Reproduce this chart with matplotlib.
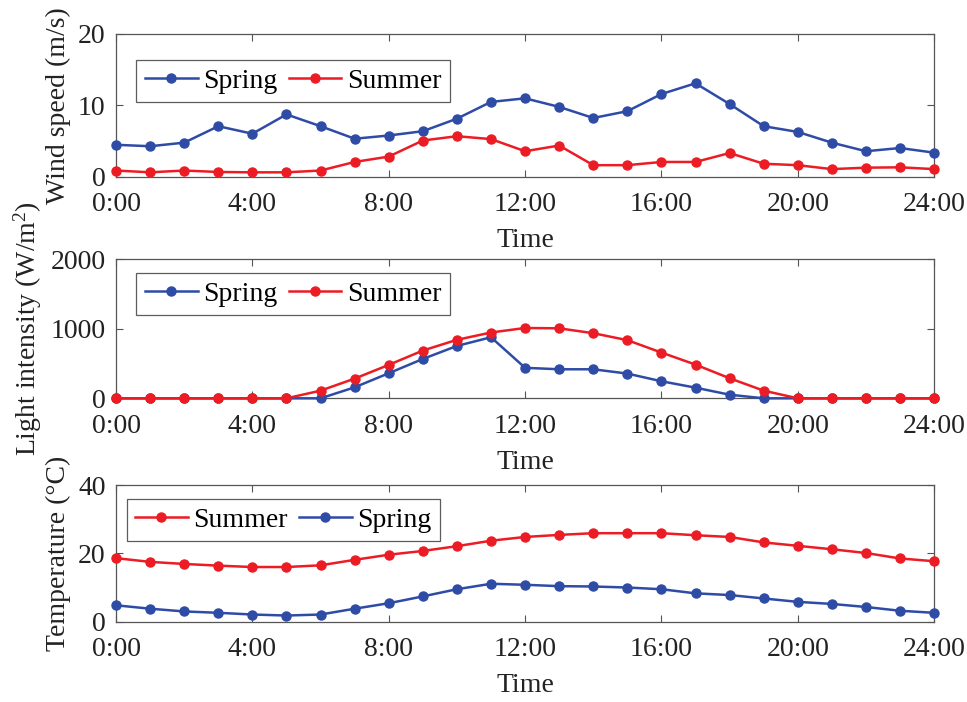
import matplotlib
matplotlib.use("Agg")
import matplotlib.pyplot as plt

plt.rcParams['font.family'] = ['Liberation Serif', 'DejaVu Serif']
plt.rcParams['mathtext.fontset'] = 'custom'
plt.rcParams['mathtext.rm'] = 'Liberation Serif'
plt.rcParams['mathtext.it'] = 'Liberation Serif:italic'

hours = list(range(25))
tick_hours = [0, 4, 8, 12, 16, 20, 24]
tick_labels = ["0:00", "4:00", "8:00", "12:00", "16:00", "20:00", "24:00"]

wind_spring = [4.5, 4.3, 4.8, 7.1, 6.05, 8.75, 7.1, 5.35, 5.8, 6.4, 8.15, 10.5, 11.0,
               9.8, 8.25, 9.2, 11.6, 13.1, 10.2, 7.1, 6.3, 4.8, 3.6, 4.05, 3.4]
wind_summer = [0.9, 0.65, 0.9, 0.7, 0.65, 0.65, 0.9, 2.1, 2.85, 5.1, 5.7, 5.3, 3.6,
               4.4, 1.65, 1.65, 2.1, 2.1, 3.35, 1.85, 1.65, 1.1, 1.3, 1.35, 1.1]

light_spring = [0, 0, 0, 0, 0, 0, 0, 158, 360, 565, 752, 877, 438,
                417, 417, 355, 245, 153, 52, 0, 0, 0, 0, 0, 0]
light_summer = [0, 0, 0, 0, 0, 0, 110, 283, 480, 686, 840, 945, 1010,
                1005, 935, 835, 657, 484, 288, 110, 0, 0, 0, 0, 0]

temp_summer = [18.6, 17.5, 16.9, 16.4, 16.0, 16.0, 16.5, 18.1, 19.6, 20.7, 22.1, 23.7, 24.8,
               25.4, 25.9, 25.9, 25.9, 25.3, 24.8, 23.2, 22.2, 21.2, 20.1, 18.5, 17.7]
temp_spring = [4.8, 3.8, 3.0, 2.6, 2.1, 1.8, 2.1, 3.8, 5.4, 7.4, 9.5, 11.1, 10.8,
               10.4, 10.3, 10.0, 9.5, 8.3, 7.8, 6.8, 5.8, 5.2, 4.3, 3.2, 2.6]

BLUE = '#2E4BA6'
RED = '#EC1C24'
AXC = '#555555'
TXT = '#222222'
FS = 20

fig = plt.figure(figsize=(9.67, 7.02), dpi=100)

positions = [
    [0.120, 0.7479, 0.846, 0.2037],
    [0.120, 0.4326, 0.846, 0.1984],
    [0.120, 0.1144, 0.846, 0.1947],
]

panels = [
    dict(series=[("Spring", wind_spring, BLUE), ("Summer", wind_summer, RED)],
         ylim=(0, 20), yticks=[0, 10, 20], ylabel="Wind speed (m/s)",
         anchor=(0.025, 0.818)),
    dict(series=[("Spring", light_spring, BLUE), ("Summer", light_summer, RED)],
         ylim=(0, 2000), yticks=[0, 1000, 2000], ylabel="Light intensity (W/m$^2$)",
         anchor=(0.025, 0.899)),
    dict(series=[("Summer", temp_summer, RED), ("Spring", temp_spring, BLUE)],
         ylim=(0, 40), yticks=[0, 20, 40], ylabel="Temperature (\u00b0C)",
         anchor=(0.013, 0.898)),
]

for pos, p in zip(positions, panels):
    ax = fig.add_axes(pos)
    for name, vals, col in p["series"]:
        ax.plot(hours, vals, '-o', color=col, lw=1.8, ms=6.5, label=name, clip_on=False, zorder=3)
    ax.set_xlim(0, 24)
    ax.set_ylim(*p["ylim"])
    ax.set_xticks(tick_hours)
    ax.set_xticklabels(tick_labels)
    ax.set_yticks(p["yticks"])
    ax.tick_params(direction='in', top=True, right=True, labelsize=FS, length=5,
                   width=0.8, color=AXC, labelcolor=TXT)
    ax.tick_params(axis='x', pad=11)
    ax.tick_params(axis='y', pad=7.5)
    for s in ax.spines.values():
        s.set_color(AXC)
        s.set_linewidth(0.9)
    ax.set_xlabel("Time", fontsize=FS, labelpad=8, color=TXT)
    ax.set_ylabel(p["ylabel"], fontsize=FS, labelpad=5, color=TXT)
    leg = ax.legend(loc='upper left', ncol=2, fontsize=FS, frameon=True, fancybox=False,
                    edgecolor='#333333', handlelength=1.9, handletextpad=0.2,
                    columnspacing=0.4, borderpad=0.3, bbox_to_anchor=p["anchor"],
                    borderaxespad=0)
    leg.get_frame().set_linewidth(0.9)

fig.savefig("out.png", dpi=100)
